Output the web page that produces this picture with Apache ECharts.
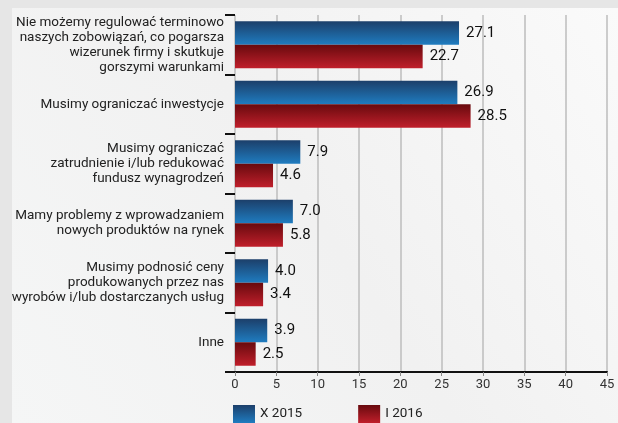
<!DOCTYPE html>
<html>
<head>
<meta charset="utf-8">
<script src="https://cdn.jsdelivr.net/npm/echarts@6/dist/echarts.min.js"></script>
<style>
html,body{margin:0;padding:0;background:#e6e6e6;}
#c{width:618px;height:423px;}
</style>
</head>
<body>
<div id="c"></div>
<script>
const categories = [
  "Nie możemy regulować terminowo\nnaszych zobowiązań, co pogarsza\nwizerunek firmy i skutkuje\ngorszymi warunkami",
  "Musimy ograniczać inwestycje",
  "Musimy ograniczać\nzatrudnienie i/lub redukować\nfundusz wynagrodzeń",
  "Mamy problemy z wprowadzaniem\nnowych produktów na rynek",
  "Musimy podnosić ceny\nprodukowanych przez nas\nwyrobów i/lub dostarczanych usług",
  "Inne"
];
const seriesNames = ["X 2015", "I 2016"];
const valuesX2015 = [27.1, 26.9, 7.9, 7.0, 4.0, 3.9];
const valuesI2016 = [22.7, 28.5, 4.6, 5.8, 3.4, 2.5];
const xTicks = { min: 0, max: 45, interval: 5 };

const font = "Roboto, 'Open Sans', 'DejaVu Sans', sans-serif";
const blueGrad = new echarts.graphic.LinearGradient(0, 0, 0, 1, [
  { offset: 0, color: '#1c3f6a' }, { offset: 1, color: '#1f7cc0' }]);
const redGrad = new echarts.graphic.LinearGradient(0, 0, 0, 1, [
  { offset: 0, color: '#680a0e' }, { offset: 1, color: '#c01f2b' }]);

const chart = echarts.init(document.getElementById('c'));
chart.setOption({
  backgroundColor: '#e6e6e6',
  animation: false,
  graphic: [{
    type: 'rect', left: 12, top: 8, z: -10,
    shape: { width: 606, height: 415 },
    style: { fill: new echarts.graphic.LinearGradient(0, 1, 1, 0, [
      { offset: 0, color: '#f5f6f6' }, { offset: 0.5, color: '#f1f1f1' }, { offset: 1, color: '#fafafa' }]) }
  }],
  grid: { left: 235, right: 11, top: 15, bottom: 51, containLabel: false },
  legend: {
    data: seriesNames,
    left: 233, top: 405, padding: 0,
    itemWidth: 22, itemHeight: 18, itemGap: 56,
    icon: 'rect',
    textStyle: { fontFamily: font, fontSize: 13.5, color: '#222' }
  },
  xAxis: {
    type: 'value', min: xTicks.min, max: xTicks.max, interval: xTicks.interval,
    axisLine: { show: true, lineStyle: { color: '#111', width: 2 } },
    axisTick: { show: true, length: 4, lineStyle: { color: '#888' } },
    axisLabel: { fontFamily: font, fontSize: 13, color: '#333', margin: 6 },
    splitLine: { show: true, lineStyle: { color: '#bdbdbd', width: 1.5 } }
  },
  yAxis: {
    type: 'category', data: categories, inverse: true,
    axisLine: { show: false },
    axisTick: { show: true, length: 10, lineStyle: { color: '#111', width: 2 } },
    axisLabel: { fontFamily: font, fontSize: 13.5, lineHeight: 15, color: '#222', margin: 11, align: 'right' }
  },
  series: [
    {
      name: seriesNames[0], type: 'bar', data: valuesX2015,
      barGap: '0%', barCategoryGap: '21%',
      itemStyle: { color: blueGrad },
      label: { show: true, position: 'right', distance: 7, fontFamily: font, fontSize: 15, color: '#111',
        formatter: p => p.value.toFixed(1) }
    },
    {
      name: seriesNames[1], type: 'bar', data: valuesI2016,
      itemStyle: { color: redGrad },
      label: { show: true, position: 'right', distance: 7, fontFamily: font, fontSize: 15, color: '#111',
        formatter: p => p.value.toFixed(1) }
    }
  ]
});
</script>
</body>
</html>
